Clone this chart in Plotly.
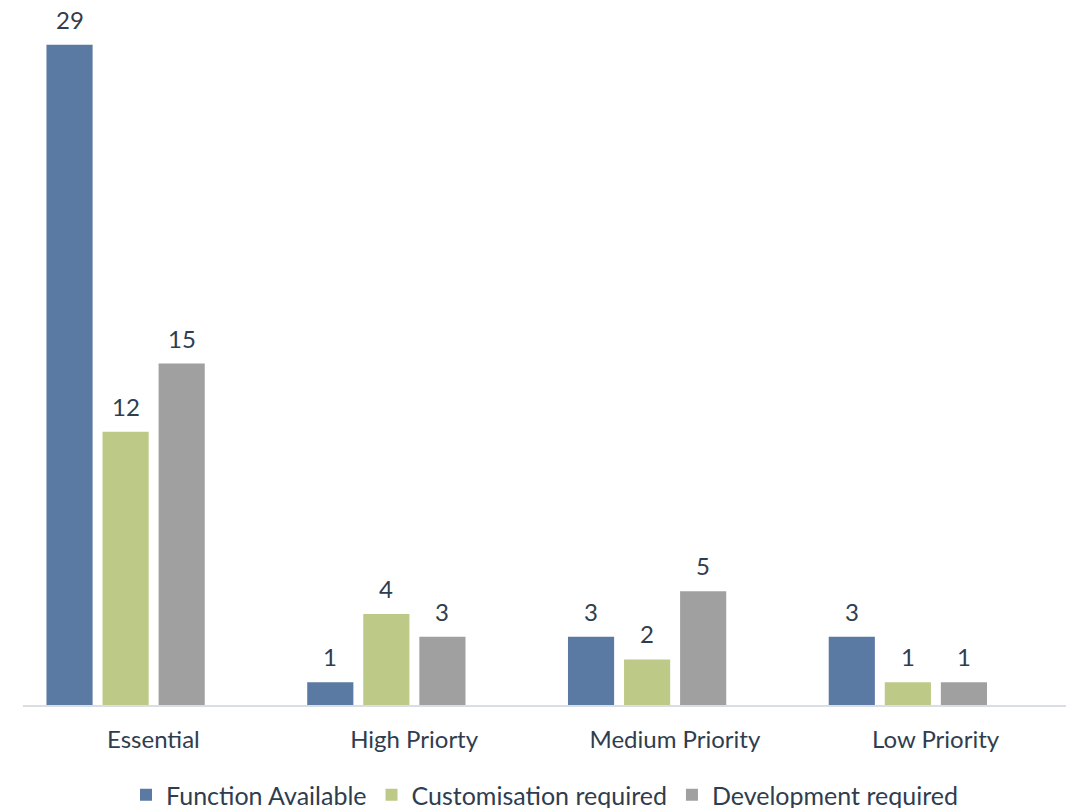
import plotly.graph_objects as go

categories = ["Essential", "High Priorty", "Medium Priority", "Low Priority"]
series_names = ["Function Available", "Customisation required", "Development required"]
function_available = [29, 1, 3, 3]
customisation_required = [12, 4, 2, 1]
development_required = [15, 3, 5, 1]

values = [function_available, customisation_required, development_required]
colors = ["#5a7aa3", "#bdca87", "#a0a0a0"]
offsets = [-0.41, -0.195, 0.02]
bar_width = 0.177

text_color = "#2f3d4f"
font_family = "Lato, 'Open Sans', sans-serif"
FS = 24

W, H = 1069, 808
ML, MR, MT, MB = 23, 3, 22, 103
cat_px = (W - ML - MR) / len(categories)

fig = go.Figure()
for name, vals, col, off in zip(series_names, values, colors, offsets):
    fig.add_trace(go.Bar(
        x=categories, y=vals, name=name,
        marker=dict(color=col, line=dict(width=0)),
        width=bar_width, offset=off,
    ))
    for c, v in zip(categories, vals):
        fig.add_annotation(
            x=c, y=v, xref="x", yref="y", text=str(v), showarrow=False,
            xshift=(off + bar_width / 2) * cat_px, yanchor="bottom", yshift=9,
            font=dict(size=FS, color=text_color, family=font_family),
        )

fig.update_layout(
    width=W, height=H,
    margin=dict(l=ML, r=MR, t=MT, b=MB),
    barmode="overlay",
    plot_bgcolor="white", paper_bgcolor="white",
    font=dict(family=font_family, color=text_color, size=FS),
    showlegend=True,
    legend=dict(orientation="h", x=0.5, xanchor="center", xref="paper",
                y=13 / H, yanchor="middle", yref="container",
                font=dict(size=25, color=text_color), itemwidth=30,
                traceorder="normal"),
    xaxis=dict(showline=True, linecolor="#d9dde4", linewidth=2, ticks="",
               tickfont=dict(size=FS, color=text_color), showgrid=False,
               ticklabelstandoff=12, automargin=False),
    yaxis=dict(range=[0, 30], visible=False, showgrid=False, zeroline=False),
)

fig.write_html("out.html")
